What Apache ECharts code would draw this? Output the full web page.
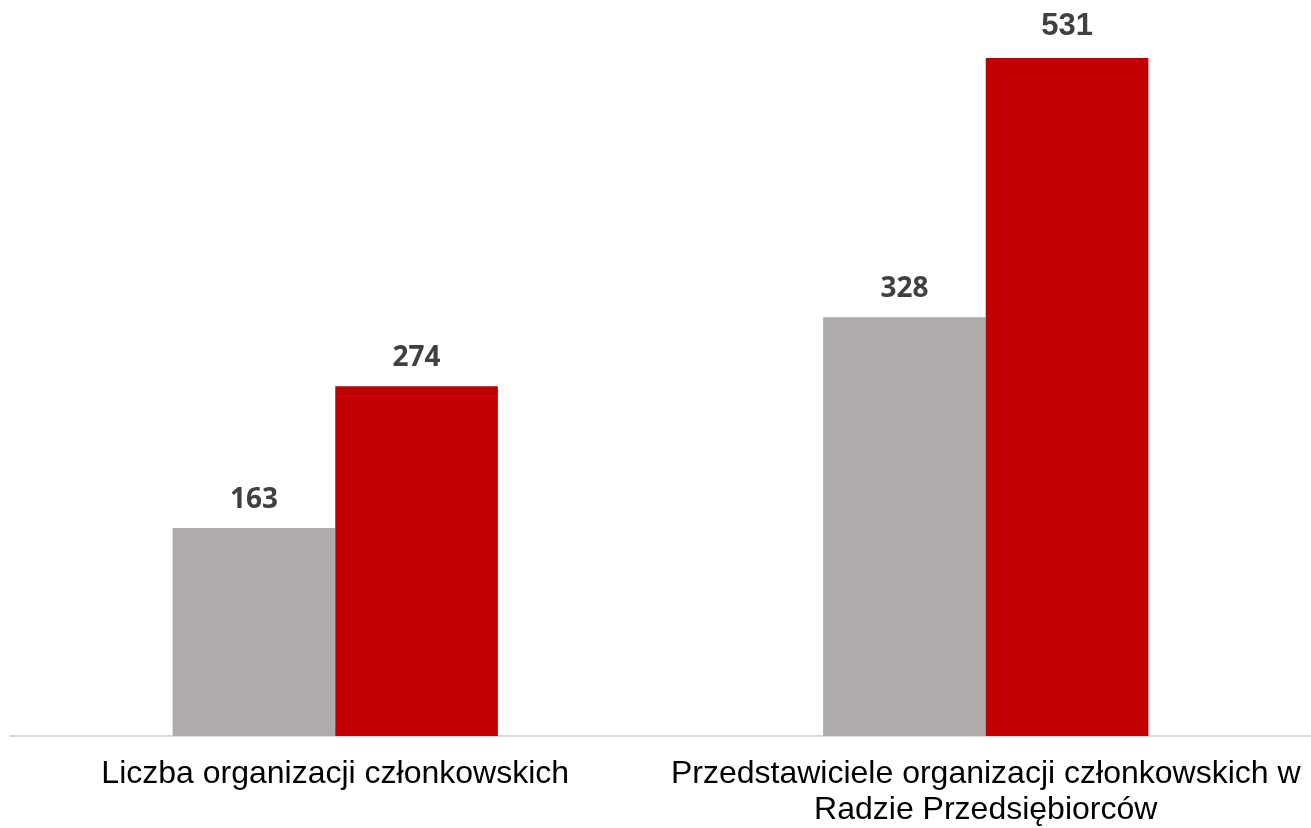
<!DOCTYPE html>
<html>
<head>
<meta charset="utf-8">
<script src="https://cdn.jsdelivr.net/npm/echarts@6/dist/echarts.min.js"></script>
<style>
  html, body { margin: 0; padding: 0; background: #fff; }
  #chart { width: 1311px; height: 828px; }
</style>
</head>
<body>
<div id="chart"></div>
<script>
const categories = ['Liczba organizacji członkowskich', 'Przedstawiciele organizacji członkowskich w\nRadzie Przedsiębiorców']
const grayValues = [163, 328]
const redValues = [274, 531]

const chart = echarts.init(document.getElementById('chart'))

const labelStyle = {
    show: true,
    position: 'top',
    distance: 14,
    color: '#404040',
    fontFamily: 'Open Sans',
    fontWeight: 'bold',
    fontSize: 28
}

// the tallest value is set in Arial-like bold in the original
const redData = redValues.map((v, i) => i === 1
    ? { value: v, label: { fontFamily: 'Liberation Sans', fontSize: 31, distance: 16 } }
    : v)

chart.setOption({
    animation: false,
    grid: { left: 10, right: 0, top: 58, bottom: 91 },
    xAxis: {
        type: 'category',
        data: categories,
        axisLine: { lineStyle: { color: '#d9d9d9', width: 2 } },
        axisTick: { show: false },
        axisLabel: {
            color: '#000',
            fontFamily: 'Liberation Sans',
            fontSize: 32,
            lineHeight: 36,
            margin: 20,
            interval: 0
        }
    },
    yAxis: {
        type: 'value',
        min: 0,
        max: 531,
        show: false,
        splitLine: { show: false }
    },
    series: [
        {
            type: 'bar',
            data: grayValues,
            barWidth: '25%',
            barGap: '0%',
            itemStyle: { color: '#afabab' },
            label: labelStyle
        },
        {
            type: 'bar',
            data: redData,
            barWidth: '25%',
            itemStyle: { color: '#c00000' },
            label: labelStyle
        }
    ]
})
</script>
</body>
</html>
